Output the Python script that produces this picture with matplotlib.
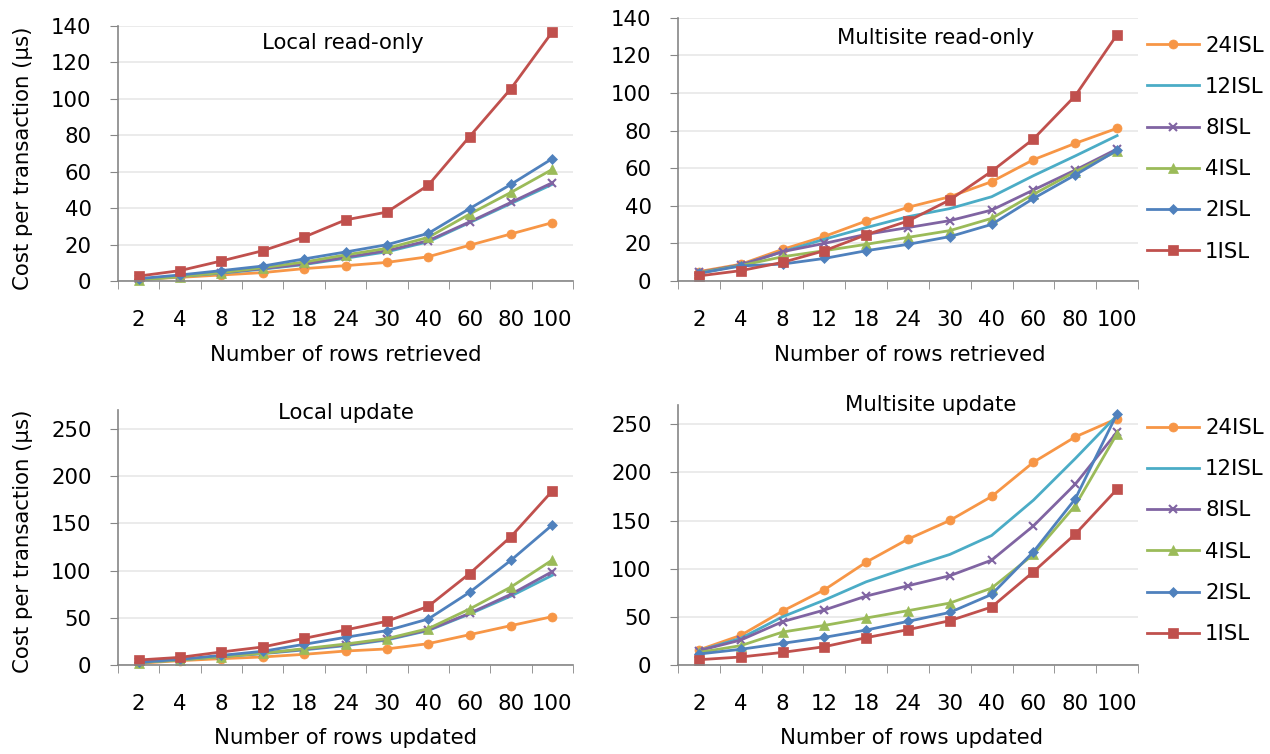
import matplotlib
matplotlib.use("Agg")
import matplotlib.pyplot as plt
from matplotlib.ticker import FixedLocator, NullFormatter

plt.rcParams['font.family'] = ['DejaVu Sans']

rows = ['2', '4', '8', '12', '18', '24', '30', '40', '60', '80', '100']
series_names = ['24ISL', '12ISL', '8ISL', '4ISL', '2ISL', '1ISL']

# Local read-only
lr_24 = [0.9, 2.0, 3.3, 4.6, 6.8, 8.4, 10.2, 13.3, 19.6, 25.8, 32.0]
lr_12 = [0.8, 2.5, 4.3, 6.5, 9.0, 12.5, 16.0, 21.5, 32.0, 42.5, 53.0]
lr_8 = [0.9, 2.7, 4.6, 6.8, 9.3, 13.0, 16.6, 22.1, 32.4, 43.1, 53.9]
lr_4 = [0.5, 2.4, 4.6, 7.3, 10.4, 14.3, 17.9, 23.9, 36.7, 48.6, 61.2]
lr_2 = [1.3, 3.3, 5.7, 8.2, 12.1, 15.9, 19.9, 26.1, 39.7, 53.0, 67.1]
lr_1 = [2.7, 5.7, 11.0, 16.6, 24.1, 33.5, 37.8, 52.5, 79.2, 105.5, 136.6]

# Multisite read-only
mr_24 = [5.0, 8.9, 16.8, 23.7, 31.9, 39.2, 44.8, 52.8, 64.5, 73.2, 81.2]
mr_12 = [4.1, 8.5, 15.6, 22.2, 28.4, 34.2, 38.5, 44.8, 56.0, 66.5, 77.3]
mr_8 = [4.6, 8.5, 15.6, 20.0, 24.8, 28.4, 32.1, 37.7, 48.4, 59.0, 70.2]
mr_4 = [4.4, 8.2, 12.9, 16.1, 19.5, 23.2, 26.8, 33.3, 46.1, 58.1, 69.1]
mr_2 = [4.1, 8.0, 9.0, 12.0, 16.1, 19.5, 23.6, 30.1, 43.9, 56.4, 69.5]
mr_1 = [2.7, 5.5, 9.9, 16.1, 24.6, 31.9, 43.1, 58.3, 75.5, 98.5, 131.0]

# Local update
lu_24 = [1.8, 4.6, 6.7, 8.5, 11.3, 14.8, 17.0, 22.6, 32.1, 41.7, 51.2]
lu_12 = [2.6, 5.4, 8.9, 12.0, 16.0, 20.5, 26.5, 36.5, 54.0, 73.0, 95.0]
lu_8 = [2.8, 5.6, 9.2, 12.4, 16.6, 21.2, 27.2, 37.1, 54.7, 74.9, 98.9]
lu_4 = [2.5, 5.3, 8.8, 12.4, 17.3, 22.2, 27.9, 38.5, 59.3, 82.6, 111.2]
lu_2 = [2.8, 6.0, 10.2, 14.5, 21.9, 29.3, 36.4, 48.7, 77.0, 110.9, 148.3]
lu_1 = [5.3, 8.1, 13.8, 19.1, 28.2, 37.1, 46.3, 62.1, 96.8, 135.9, 184.3]

# Multisite update
mu_24 = [15.6, 30.8, 56.0, 78.1, 106.8, 130.7, 150.1, 175.0, 210.6, 236.9, 255.9]
mu_12 = [14.9, 27.7, 50.1, 67.4, 86.4, 101.0, 114.8, 134.5, 171.2, 214.4, 259.3]
mu_8 = [14.9, 25.9, 45.0, 57.1, 71.6, 82.3, 92.7, 108.9, 144.5, 187.8, 242.0]
mu_4 = [13.1, 20.1, 34.2, 41.1, 48.8, 56.4, 64.3, 79.9, 114.8, 165.6, 240.3]
mu_2 = [11.4, 16.3, 22.5, 28.7, 36.3, 45.3, 54.6, 73.3, 117.6, 172.5, 261.0]
mu_1 = [5.5, 8.3, 13.1, 19.0, 28.4, 36.7, 46.0, 60.2, 96.8, 135.9, 182.6]

colors = ['#F79646', '#4BACC6', '#8064A2', '#9BBB59', '#4F81BD', '#C0504D']
markers = ['o', None, 'x', '^', 'D', 's']
msizes = [6.5, 0, 6, 7, 5.5, 6.5]

W, H = 1270, 754
fs = 15.3
fig = plt.figure(figsize=(W / 100, H / 100), dpi=100)


def px_axes(left, right, top, bottom):
    return fig.add_axes([left / W, (H - bottom) / H, (right - left) / W, (bottom - top) / H])


def style_axes(ax, ymax, ystep, ytop):
    ax.set_xlim(-0.5, len(rows) - 0.5)
    ax.set_ylim(0, ytop)
    ax.set_yticks(range(0, ymax + 1, ystep))
    ax.set_xticks(range(len(rows)))
    ax.set_xticklabels(rows)
    ax.xaxis.set_minor_locator(FixedLocator([i - 0.5 for i in range(len(rows) + 1)]))
    ax.xaxis.set_minor_formatter(NullFormatter())
    ax.tick_params(axis='x', which='major', length=0, pad=21, labelsize=fs)
    ax.tick_params(axis='x', which='minor', length=6, color='#868686', direction='out')
    ax.tick_params(axis='y', length=6, color='#868686', direction='out', pad=13, labelsize=fs)
    for side in ['top', 'right']:
        ax.spines[side].set_visible(False)
    for side in ['left', 'bottom']:
        ax.spines[side].set_color('#868686')
        ax.spines[side].set_linewidth(1.2)
    ax.grid(axis='y', color='#e8e8e8', linewidth=1.2)
    ax.set_axisbelow(True)


def draw(ax, data):
    lines = []
    for vals, name, c, m, ms in zip(data, series_names, colors, markers, msizes):
        ln, = ax.plot(range(len(rows)), vals, color=c, marker=m, markersize=ms,
                      linewidth=2, label=name, markeredgewidth=1.5 if m == 'x' else 0.5,
                      clip_on=False)
        lines.append(ln)
    return lines


ax_lr = px_axes(118, 573, 25.7, 281)
ax_mr = px_axes(678, 1138, 17.7, 281)
ax_lu = px_axes(118, 573, 410, 665)
ax_mu = px_axes(678, 1138, 405, 665)

style_axes(ax_lr, 140, 20, 140)
style_axes(ax_mr, 140, 20, 140)
style_axes(ax_lu, 250, 50, 270)
style_axes(ax_mu, 250, 50, 270)

draw(ax_lr, [lr_24, lr_12, lr_8, lr_4, lr_2, lr_1])
h_top = draw(ax_mr, [mr_24, mr_12, mr_8, mr_4, mr_2, mr_1])
draw(ax_lu, [lu_24, lu_12, lu_8, lu_4, lu_2, lu_1])
h_bot = draw(ax_mu, [mu_24, mu_12, mu_8, mu_4, mu_2, mu_1])

fig.text(343 / W, 1 - 43 / H, 'Local read-only', ha='center', va='center', fontsize=fs)
fig.text(936 / W, 1 - 38 / H, 'Multisite read-only', ha='center', va='center', fontsize=fs)
fig.text(346 / W, 1 - 413 / H, 'Local update', ha='center', va='center', fontsize=fs)
fig.text(931 / W, 1 - 405 / H, 'Multisite update', ha='center', va='center', fontsize=fs)

fig.text(23 / W, 1 - 158 / H, 'Cost per transaction (µs)', rotation=90, ha='center', va='center', fontsize=fs)
fig.text(23 / W, 1 - 541 / H, 'Cost per transaction (µs)', rotation=90, ha='center', va='center', fontsize=fs)
fig.text(346 / W, 1 - 355 / H, 'Number of rows retrieved', ha='center', va='center', fontsize=fs)
fig.text(910 / W, 1 - 355 / H, 'Number of rows retrieved', ha='center', va='center', fontsize=fs)
fig.text(346 / W, 1 - 738 / H, 'Number of rows updated', ha='center', va='center', fontsize=fs)
fig.text(912 / W, 1 - 738 / H, 'Number of rows updated', ha='center', va='center', fontsize=fs)

for handles, ytop in [(h_top, 35.5), (h_bot, 418)]:
    fig.legend(handles=handles, loc='upper left', bbox_to_anchor=(1147 / W, 1 - ytop / H),
               frameon=False, fontsize=fs, handlelength=2.45, handletextpad=0.28,
               labelspacing=1.0, borderpad=0, borderaxespad=0)

fig.savefig('out.png', dpi=100)
